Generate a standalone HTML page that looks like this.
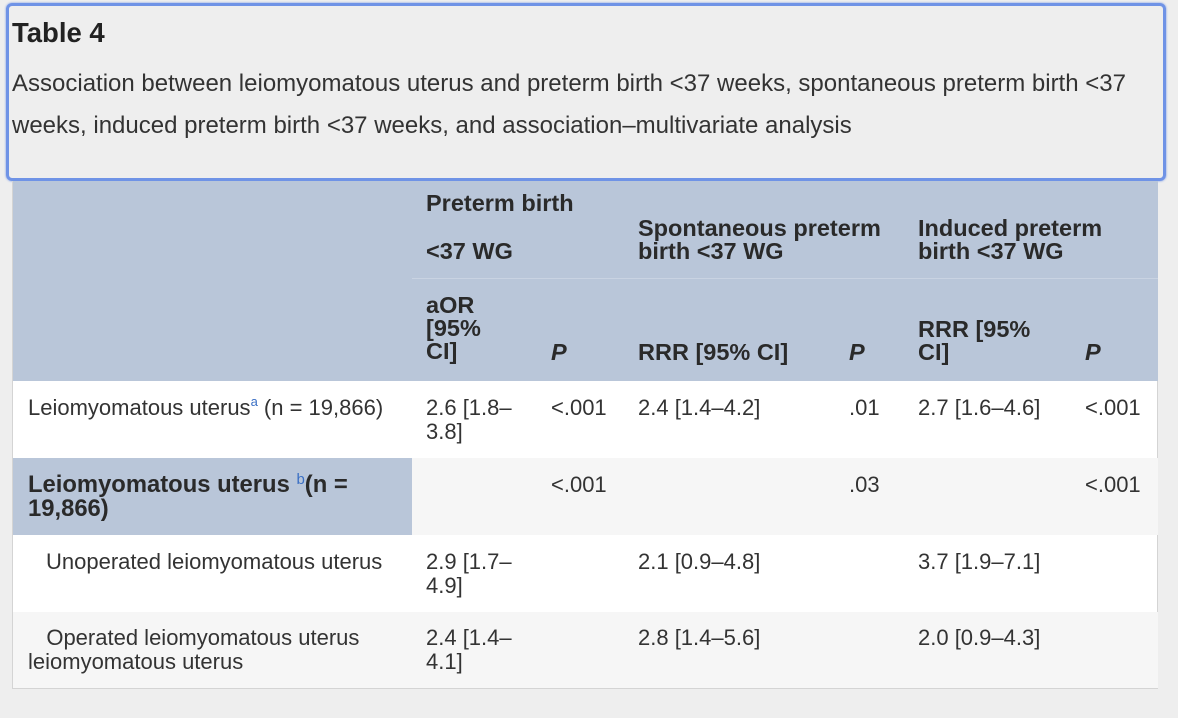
<!DOCTYPE html>
<html><head><meta charset="utf-8">
<style>
body{margin:0;width:1178px;height:718px;background:#eeeeee;font-family:"Liberation Sans",Arial,sans-serif;color:#333;position:relative;overflow:hidden}
.a{position:absolute;white-space:nowrap}
.cap{position:absolute;left:6px;top:3px;width:1154px;height:172px;border:3px solid #6f93e6;border-radius:6px;box-shadow:0 0 2px #6f93e6}
.h{font-weight:bold;font-size:23.5px;line-height:23px;color:#2a2a2a}
.b{font-size:22px;line-height:24px;color:#333}
.bg{position:absolute}
</style></head><body>
<div class="cap"></div>
<div class="a" style="left:12px;top:17px;font-size:27.5px;font-weight:bold;color:#222">Table 4</div>
<div class="a" style="left:12px;top:63px;font-size:24px;color:#333;line-height:42px">Association between leiomyomatous uterus and preterm birth &lt;37 weeks, spontaneous preterm birth &lt;37<br>weeks, induced preterm birth &lt;37 weeks, and association–multivariate analysis</div>

<div class="bg" style="left:12px;top:181px;width:1146px;height:508px;border:1px solid #d4d4d4;box-sizing:border-box;background:#fff"></div>
<div class="bg" style="left:13px;top:181px;width:1145px;height:200px;background:#b9c6d9"></div>
<div class="bg" style="left:412px;top:278px;width:746px;height:1px;background:#c9d3e2"></div>
<div class="bg" style="left:13px;top:458px;width:1145px;height:77px;background:#f6f6f6"></div>
<div class="bg" style="left:13px;top:458px;width:399px;height:77px;background:#b9c6d9"></div>
<div class="bg" style="left:13px;top:612px;width:1145px;height:76px;background:#f6f6f6"></div>

<div class="a h" style="left:426px;top:192px">Preterm birth</div>
<div class="a h" style="left:426px;top:240px">&lt;37 WG</div>
<div class="a h" style="left:638px;top:217px">Spontaneous preterm<br>birth &lt;37 WG</div>
<div class="a h" style="left:918px;top:217px">Induced preterm<br>birth &lt;37 WG</div>
<div class="a h" style="left:426px;top:294px">aOR<br>[95%<br>CI]</div>
<div class="a h" style="left:551px;top:341px;font-style:italic">P</div>
<div class="a h" style="left:638px;top:341px">RRR [95% CI]</div>
<div class="a h" style="left:849px;top:341px;font-style:italic">P</div>
<div class="a h" style="left:918px;top:318px">RRR [95%<br>CI]</div>
<div class="a h" style="left:1085px;top:341px;font-style:italic">P</div>

<div class="a b" style="left:28px;top:396px">Leiomyomatous uterus<sup style="font-size:13px;color:#3a6fc4;vertical-align:9px;line-height:0">a</sup> (n = 19,866)</div>
<div class="a b" style="left:426px;top:396px">2.6 [1.8–<br>3.8]</div>
<div class="a b" style="left:551px;top:396px">&lt;.001</div>
<div class="a b" style="left:638px;top:396px">2.4 [1.4–4.2]</div>
<div class="a b" style="left:849px;top:396px">.01</div>
<div class="a b" style="left:918px;top:396px">2.7 [1.6–4.6]</div>
<div class="a b" style="left:1085px;top:396px">&lt;.001</div>

<div class="a b" style="left:28px;top:473px;font-weight:bold;font-size:23.8px;color:#2a2a2a">Leiomyomatous uterus <sup style="font-size:15px;color:#3a6fc4;vertical-align:8px;line-height:0;font-weight:normal">b</sup>(n =<br>19,866)</div>
<div class="a b" style="left:551px;top:473px">&lt;.001</div>
<div class="a b" style="left:849px;top:473px">.03</div>
<div class="a b" style="left:1085px;top:473px">&lt;.001</div>

<div class="a b" style="left:46px;top:550px">Unoperated leiomyomatous uterus</div>
<div class="a b" style="left:426px;top:550px">2.9 [1.7–<br>4.9]</div>
<div class="a b" style="left:638px;top:550px">2.1 [0.9–4.8]</div>
<div class="a b" style="left:918px;top:550px">3.7 [1.9–7.1]</div>

<div class="a b" style="left:28px;top:626px">&nbsp;&nbsp;&nbsp;Operated leiomyomatous uterus<br>leiomyomatous uterus</div>
<div class="a b" style="left:426px;top:626px">2.4 [1.4–<br>4.1]</div>
<div class="a b" style="left:638px;top:626px">2.8 [1.4–5.6]</div>
<div class="a b" style="left:918px;top:626px">2.0 [0.9–4.3]</div>
</body></html>
